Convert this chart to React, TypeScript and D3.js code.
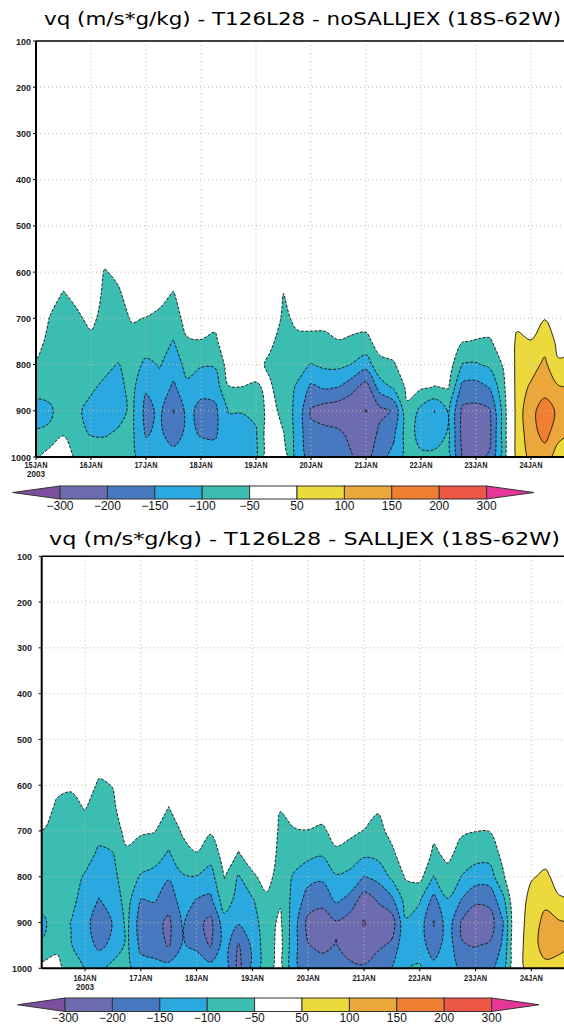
import { useEffect, useRef } from 'react'
import * as d3 from 'd3'

// grid rows (hPa) and 6-hourly columns from 15JAN2003 00Z
const levels = [500, 550, 600, 650, 700, 750, 800, 850, 900, 950, 1000]
const stepDays = 0.25

// vq (m/s*g/kg), noSALLJEX run, one array per level, 40 columns
const no500 = [0,0,0,0,0,0,0,0,0,0, 0,0,0,0,0,0,0,0,0,0, 0,0,0,0,0,0,0,0,0,0, 0,0,0,0,0,0,0,0,0,0]
const no550 = [0,0,-5,0,0,-20,-5,0,0,0, 0,0,0,0,0,0,0,0,0,0, 0,0,0,0,0,0,0,0,0,0, 0,0,0,0,0,0,0,0,0,0]
const no600 = [0,-5,-25,-10,0,-55,-35,0,0,-5, -25,0,0,0,0,0,0,0,-25,0, 0,0,0,0,0,0,0,0,0,0, 0,0,0,0,0,0,0,0,0,0]
const no650 = [0,-30,-55,-35,-10,-65,-60,-20,-15,-35, -55,-10,-10,-10,0,0,0,0,-52,-15, -10,-10,0,0,-5,0,0,0,0,0, 0,-10,-10,-5,0,0,0,25,0,0]
const no700 = [-10,-52,-65,-60,-35,-72,-70,-45,-52,-62, -75,-30,-28,-35,-5,-5,-5,-10,-60,-40, -35,-35,-25,-30,-35,-10,-5,0,-5,-5, -5,-35,-30,-25,-10,30,20,48,10,10]
const no750 = [-30,-65,-70,-70,-65,-80,-80,-70,-75,-80, -102,-55,-52,-60,-15,-15,-15,-40,-70,-60, -62,-62,-52,-58,-60,-35,-25,-5,-10,-10, -10,-48,-52,-55,-25,65,52,80,38,35]
const no800 = [-55,-75,-78,-75,-80,-90,-102,-80,-110,-97, -125,-85,-95,-95,-30,-30,-35,-60,-78,-85, -102,-90,-88,-102,-130,-60,-55,-20,-25,-25, -25,-102,-105,-90,-45,72,80,110,55,60]
const no850 = [-85,-90,-85,-85,-95,-108,-110,-88,-145,-115, -160,-110,-135,-130,-52,-51,-55,-42,-80,-105, -160,-145,-152,-185,-225,-130,-95,-40,-45,-52, -48,-165,-170,-148,-65,75,108,130,105,102]
const no900 = [-115,-105,-85,-95,-110,-115,-112,-92,-165,-140, -203,-135,-165,-162,-98,-98,-90,-25,-70,-115, -205,-225,-235,-245,-305,-215,-195,-58,-115,-151, -95,-210,-215,-205,-80,75,135,175,140,115]
const no950 = [-95,-95,-55,-92,-102,-103,-95,-92,-155,-138, -180,-135,-155,-158,-115,-115,-105,-10,-48,-120, -190,-185,-190,-215,-250,-185,-160,-75,-120,-140, -92,-215,-225,-210,-80,75,125,170,112,100]
const no1000 = [-60,-20,0,-70,-80,-80,-75,-90,-125,-115, -125,-115,-120,-125,-108,-110,-110,0,-15,-125, -170,-170,-175,-198,-220,-165,-135,-80,-90,-80, -80,-205,-210,-195,-75,72,112,120,80,70]

// vq (m/s*g/kg), SALLJEX run
const sa500 = [0,0,0,0,0,0,0,0,0,0, 0,0,0,0,0,0,0,0,0,0, 0,0,0,0,0,0,0,0,0,0, 0,0,0,0,0,0,0,0,0,0]
const sa550 = [0,0,-5,-10,0,-25,-5,0,0,0, 0,0,0,0,0,0,0,0,0,0, 0,0,0,0,0,0,0,0,0,0, 0,0,0,0,0,0,0,0,0,0]
const sa600 = [0,0,-35,-45,-15,-60,-48,0,0,0, -20,0,0,0,0,0,0,0,-15,0, 0,0,0,0,0,-5,0,0,0,0, 0,0,0,0,0,0,0,0,0,0]
const sa650 = [-25,-20,-62,-62,-48,-68,-62,-8,-5,-10, -52,-8,0,-10,0,-10,0,0,-48,-20, -15,-25,0,0,-15,-45,-5,0,0,-10, 0,-15,-15,-15,0,0,0,0,0,0]
const sa700 = [-55,-52,-68,-68,-65,-85,-75,-35,-45,-48, -75,-45,-28,-45,-15,-35,-10,-5,-60,-55, -52,-60,-30,-40,-52,-65,-35,-5,-5,-40, -15,-45,-49,-49,-10,0,0,5,0,0]
const sa750 = [-65,-65,-72,-75,-80,-108,-102,-58,-70,-80, -105,-65,-52,-80,-30,-52,-35,-15,-65,-70, -85,-95,-60,-70,-90,-85,-60,-20,-15,-58, -40,-65,-80,-80,-35,0,15,30,10,5]
const sa800 = [-75,-75,-78,-80,-105,-125,-115,-70,-105,-115, -145,-105,-102,-120,-48,-105,-55,-40,-62,-108, -135,-140,-105,-115,-152,-135,-90,-45,-35,-102, -65,-102,-125,-125,-55,5,45,60,30,25]
const sa850 = [-90,-90,-82,-88,-118,-152,-130,-80,-152,-145, -180,-125,-152,-160,-70,-120,-105,-55,-55,-120, -170,-185,-140,-165,-225,-195,-160,-80,-95,-165, -102,-152,-190,-185,-110,15,70,90,55,52]
const sa900 = [-108,-105,-85,-101,-135,-175,-148,-88,-175,-185, -210,-145,-185,-215,-120,-145,-125,-68,-42,-130, -215,-225,-205,-230,-310,-230,-225,-105,-125,-203, -123,-205,-235,-225,-150,20,80,112,105,95]
const sa950 = [-98,-97,-60,-98,-128,-160,-140,-90,-162,-170, -205,-145,-165,-205,-125,-205,-140,-72,-35,-135, -198,-210,-198,-220,-250,-210,-190,-105,-120,-185, -120,-198,-202,-195,-140,25,85,115,110,100]
const sa1000 = [-45,-30,-35,-75,-102,-115,-80,-85,-130,-135, -130,-120,-105,-130,-115,-215,-135,-70,-30,-140, -175,-180,-170,-190,-190,-170,-148,-101,-95,-130, -105,-170,-175,-165,-120,25,80,90,85,80]

const noRows = [no500, no550, no600, no650, no700, no750, no800, no850, no900, no950, no1000]
const saRows = [sa500, sa550, sa600, sa650, sa700, sa750, sa800, sa850, sa900, sa950, sa1000]

// contour levels and shading
const negLevels = [50, 100, 150, 200, 300]
const negColors = ['#3bbdb1', '#29a9e0', '#4679bf', '#6c6cb1', '#7d4f9f']
const posLevels = [50, 100, 150, 200, 300]
const posColors = ['#ecd93b', '#eca73b', '#f17f31', '#ee5646', '#e5379a']
const barColors = ['#7d4f9f', '#6c6cb1', '#4679bf', '#29a9e0', '#3bbdb1', '#ffffff', '#ecd93b', '#eca73b', '#f17f31', '#ee5646', '#e5379a']
const barLabels = ['\u2212300', '\u2212200', '\u2212150', '\u2212100', '\u221250', '50', '100', '150', '200', '300']

const pressureTicks = [100, 200, 300, 400, 500, 600, 700, 800, 900, 1000]
const topDayLabels = ['15JAN', '16JAN', '17JAN', '18JAN', '19JAN', '20JAN', '21JAN', '22JAN', '23JAN', '24JAN']
const bottomDayLabels = ['16JAN', '17JAN', '18JAN', '19JAN', '20JAN', '21JAN', '22JAN', '23JAN', '24JAN']

const panels = [
  { id: 'no', title: 'vq (m/s*g/kg) - T126L28 - noSALLJEX (18S-62W)', rows: noRows, dayLabels: topDayLabels, firstDay: 0,
    x0: 36, dayA: 0, xA: 36, dayB: 9, xB: 531, top: 41, bottom: 457, labelRight: 31,
    titleX: 44, titleW: 517, titleY: 25, tickY: 468, barX: 60, barY: 486, barH: 13, barLabelY: 510 },
  { id: 'sa', title: 'vq (m/s*g/kg) - T126L28 - SALLJEX (18S-62W)', rows: saRows, dayLabels: bottomDayLabels, firstDay: 1,
    x0: 41.7, dayA: 1, xA: 85, dayB: 9, xB: 531.4, top: 556.3, bottom: 968.3, labelRight: 32,
    titleX: 49, titleW: 511, titleY: 545, tickY: 981, barX: 65, barY: 998, barH: 13.5, barLabelY: 1022 },
]

const W = 564
const H = 1024
const boxW = 47.4

function drawPanel(svg: any, p: any) {
  const x = d3.scaleLinear().domain([p.dayA, p.dayB]).range([p.xA, p.xB])
  const y = d3.scaleLinear().domain([100, 1000]).range([p.top, p.bottom])
  const nx = p.rows[0].length
  const ny = p.rows.length
  const values = p.rows.flat()
  const dp = levels[1] - levels[0]

  // grid cell -> screen, then a smooth closed curve through each ring
  const toScreen = (pt: number[]) => [x((pt[0] - 0.5) * stepDays), y(levels[0] + (pt[1] - 0.5) * dp)]
  const ringLine = d3.line().curve(d3.curveCatmullRomClosed.alpha(0.5))
  const smooth = (mp: any) => mp.coordinates
    .map((poly: any) => poly.map((ring: any) => ringLine(ring.slice(0, -1).map(toScreen))).join(''))
    .join('')

  const negC = d3.contours().size([nx, ny]).thresholds(negLevels)(values.map((v: number) => -v))
  const posC = d3.contours().size([nx, ny]).thresholds(posLevels)(values)

  svg.append('clipPath').attr('id', 'clip-' + p.id)
    .append('rect')
    .attr('x', p.x0).attr('y', p.top)
    .attr('width', W - p.x0).attr('height', p.bottom - p.top)

  const plot = svg.append('g').attr('clip-path', `url(#clip-${p.id})`)

  plot.append('g').selectAll('path').data(negC).join('path')
    .attr('d', smooth).attr('fill-rule', 'evenodd').attr('fill', (_: any, i: number) => negColors[i])
  plot.append('g').selectAll('path').data(posC).join('path')
    .attr('d', smooth).attr('fill-rule', 'evenodd').attr('fill', (_: any, i: number) => posColors[i])

  // dotted grid
  const grid = plot.append('g')
    .attr('stroke', '#c6bd98').attr('stroke-width', 1).attr('stroke-dasharray', '1,3')
  pressureTicks.filter(v => v > 100 && v < 1000).forEach(v => {
    grid.append('line').attr('x1', p.x0).attr('x2', W).attr('y1', y(v)).attr('y2', y(v))
  })
  p.dayLabels.forEach((_: string, i: number) => {
    const xx = x(p.firstDay + i)
    if (xx > p.x0 + 2) grid.append('line').attr('x1', xx).attr('x2', xx).attr('y1', p.top).attr('y2', p.bottom)
  })

  // contour lines: dashed negative, solid positive
  plot.append('g').selectAll('path').data(negC).join('path')
    .attr('d', smooth).attr('fill', 'none').attr('stroke', '#111')
    .attr('stroke-width', 0.9).attr('stroke-dasharray', '3,1.5')
  plot.append('g').selectAll('path').data(posC).join('path')
    .attr('d', smooth).attr('fill', 'none').attr('stroke', '#111').attr('stroke-width', 0.9)

  // frame
  svg.append('line').attr('x1', p.x0).attr('x2', W).attr('y1', p.top).attr('y2', p.top)
    .attr('stroke', '#000').attr('stroke-width', 1.5)
  svg.append('line').attr('x1', p.x0).attr('x2', W).attr('y1', p.bottom).attr('y2', p.bottom)
    .attr('stroke', '#000').attr('stroke-width', 2)
  svg.append('line').attr('x1', p.x0).attr('x2', p.x0).attr('y1', p.top).attr('y2', p.bottom)
    .attr('stroke', '#000').attr('stroke-width', 2)

  // pressure axis
  pressureTicks.forEach(v => {
    svg.append('line').attr('x1', p.x0 - 3).attr('x2', p.x0).attr('y1', y(v)).attr('y2', y(v))
      .attr('stroke', '#000').attr('stroke-width', 1)
    svg.append('text').attr('x', p.labelRight).attr('y', y(v) + 3.5)
      .attr('text-anchor', 'end').attr('font-family', 'Liberation Sans, Arial, sans-serif')
      .attr('font-size', 9).attr('font-weight', 'bold').attr('fill', '#222').text(String(v))
  })

  // time axis
  p.dayLabels.forEach((lab: string, i: number) => {
    const xx = x(p.firstDay + i)
    svg.append('line').attr('x1', xx).attr('x2', xx).attr('y1', p.bottom).attr('y2', p.bottom + 3)
      .attr('stroke', '#000').attr('stroke-width', 1)
    svg.append('text').attr('x', xx).attr('y', p.tickY).attr('text-anchor', 'middle')
      .attr('font-family', 'Liberation Sans, Arial, sans-serif').attr('font-size', 9).attr('font-weight', 'bold')
      .attr('textLength', 23).attr('lengthAdjust', 'spacingAndGlyphs')
      .attr('fill', '#222').text(lab)
    if (i === 0) {
      svg.append('text').attr('x', xx).attr('y', p.tickY + 9).attr('text-anchor', 'middle')
        .attr('font-family', 'Liberation Sans, Arial, sans-serif').attr('font-size', 9).attr('font-weight', 'bold')
        .attr('textLength', 18).attr('lengthAdjust', 'spacingAndGlyphs')
        .attr('fill', '#222').text('2003')
    }
  })

  // title
  svg.append('text').attr('x', p.titleX).attr('y', p.titleY)
    .attr('font-family', 'DejaVu Sans, sans-serif').attr('font-size', 18)
    .attr('textLength', p.titleW).attr('lengthAdjust', 'spacingAndGlyphs')
    .attr('fill', '#000').text(p.title)

  // colour bar
  const bx = d3.scaleLinear().domain([0, 1]).range([p.barX, p.barX + boxW])
  const bar = svg.append('g').attr('stroke', '#333').attr('stroke-width', 1)
  const yT = p.barY
  const yB = p.barY + p.barH
  barColors.forEach((c, i) => {
    const a = bx(i - 1)
    const b = bx(i)
    if (i === 0) {
      bar.append('path').attr('d', `M${b},${yT}L${a},${(yT + yB) / 2}L${b},${yB}Z`).attr('fill', c)
    } else if (i === barColors.length - 1) {
      bar.append('path').attr('d', `M${a},${yT}L${b},${(yT + yB) / 2}L${a},${yB}Z`).attr('fill', c)
    } else {
      bar.append('rect').attr('x', a).attr('y', yT).attr('width', b - a).attr('height', p.barH).attr('fill', c)
    }
  })
  barLabels.forEach((lab, i) => {
    svg.append('text').attr('x', bx(i)).attr('y', p.barLabelY).attr('text-anchor', 'middle')
      .attr('font-family', 'Liberation Sans, Arial, sans-serif').attr('font-size', 12)
      .attr('fill', '#111').text(lab)
  })
}

const App = () => {
  const ref = useRef<SVGSVGElement>(null)

  useEffect(() => {
    const svg = d3.select(ref.current)
    svg.selectAll('*').remove()
    panels.forEach(p => drawPanel(svg, p))
  }, [])

  return (
    <svg ref={ref} width={W} height={H}
      style={{ position: 'absolute', left: 0, top: 0, background: '#fff' }} />
  )
}

export default App
